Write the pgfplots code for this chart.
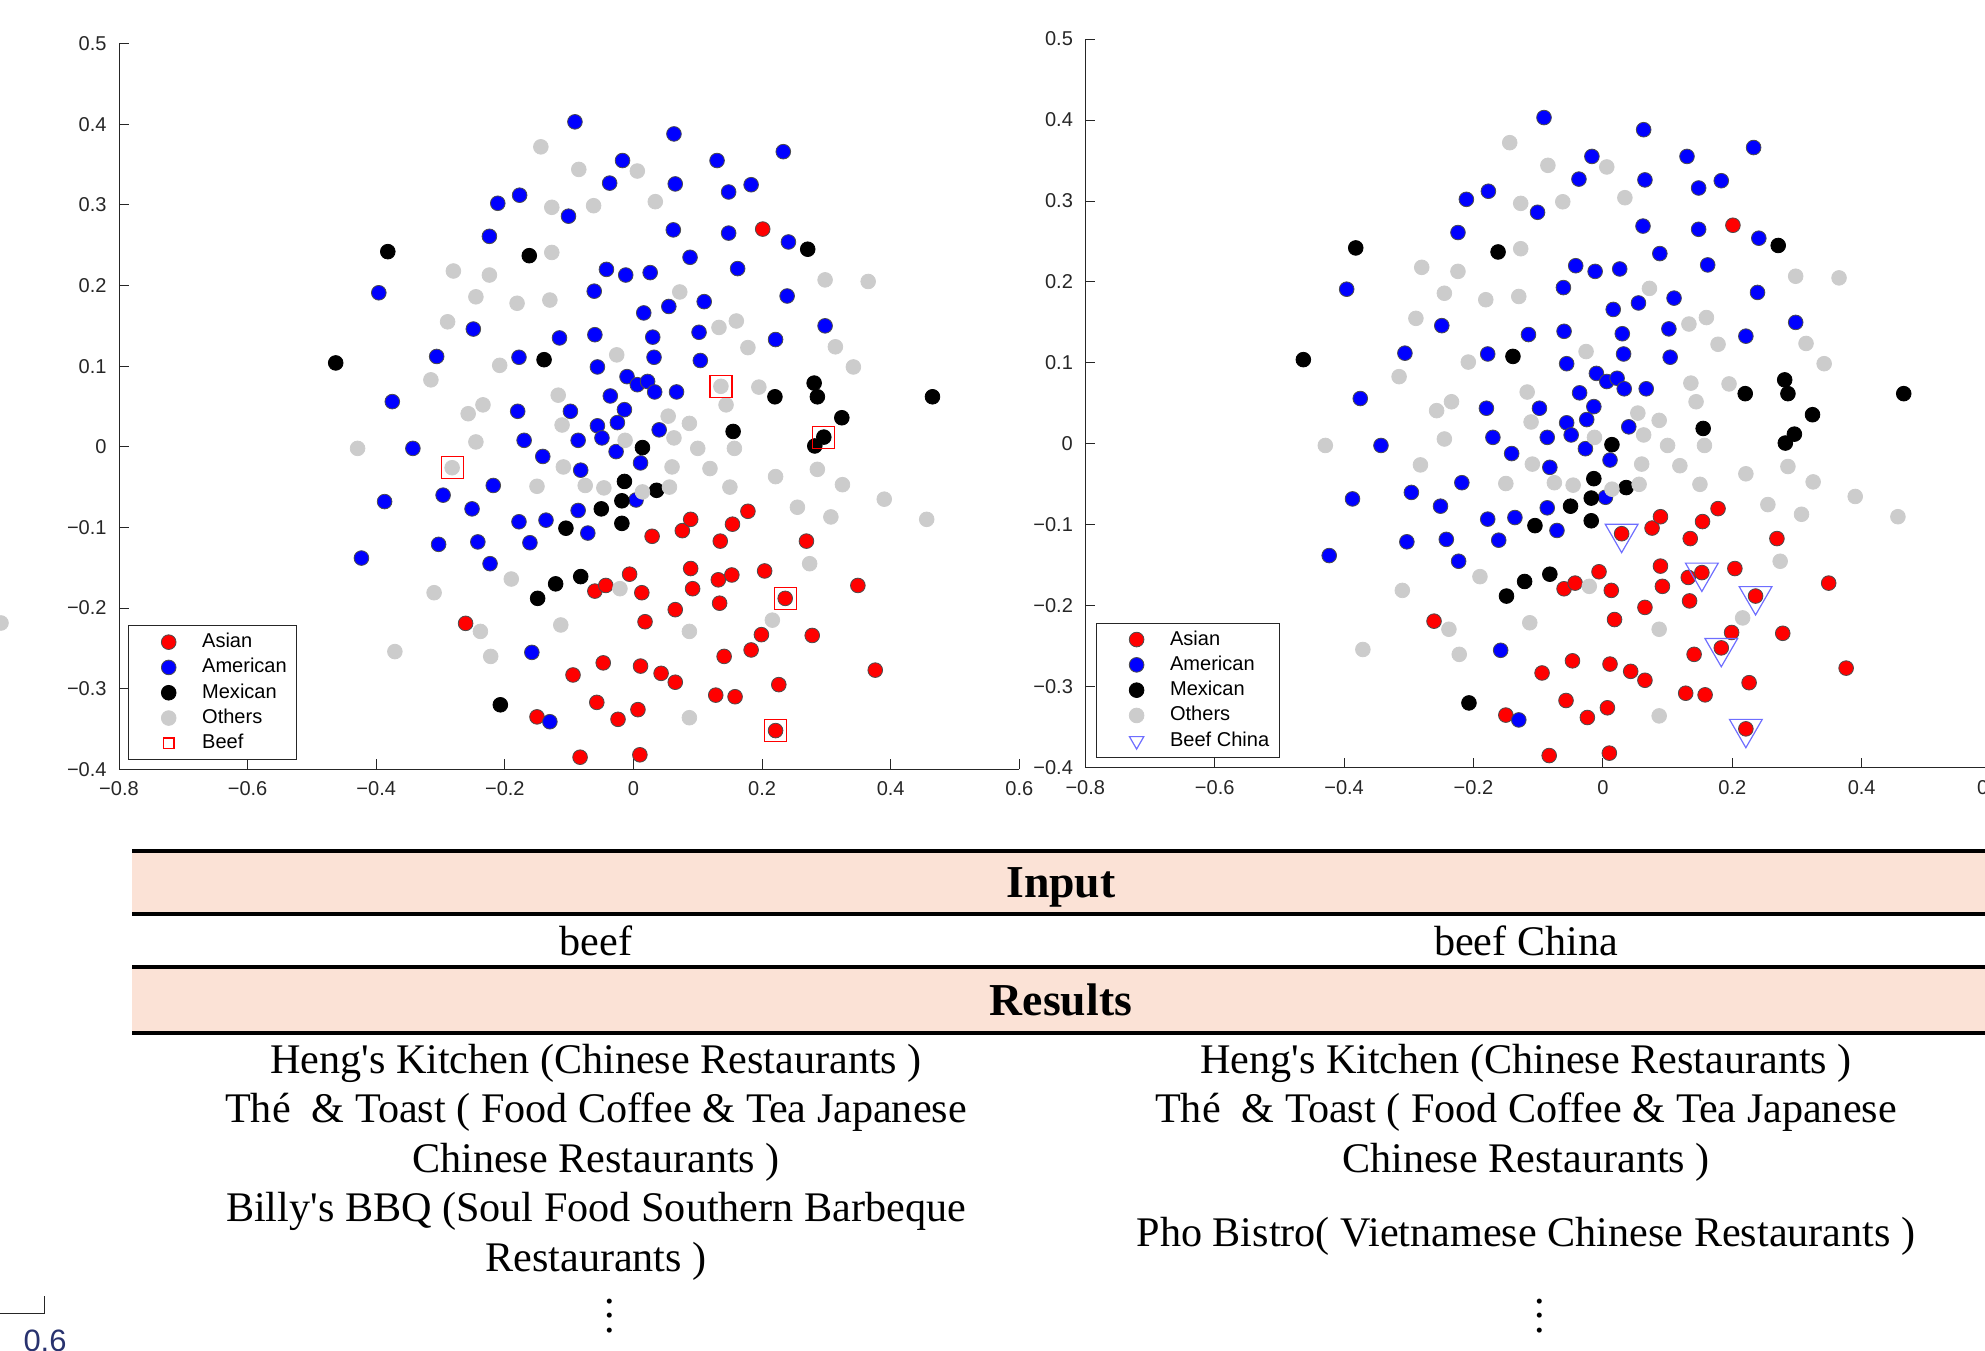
\documentclass[border=0pt]{standalone}
\usepackage{pgfplots}
\pgfplotsset{compat=1.18}
\usepackage{pgfplotstable}
\usepackage{fontspec}
\setmainfont{Liberation Serif}
\setsansfont{Liberation Sans}
\definecolor{headfill}{RGB}{251,226,214}
\definecolor{othergray}{RGB}{204,204,204}
\definecolor{trib}{RGB}{110,110,255}
\definecolor{navysix}{RGB}{40,50,110}

\pgfplotstableread{
x y
0.201 0.270
0.029 -0.111
0.076 -0.104
0.089 -0.090
0.178 -0.080
0.154 -0.096
0.135 -0.117
0.269 -0.117
0.089 -0.151
0.132 -0.165
0.153 -0.159
0.204 -0.154
0.092 -0.176
0.236 -0.188
0.349 -0.172
0.065 -0.202
0.134 -0.194
0.199 -0.233
0.278 -0.234
0.183 -0.252
0.141 -0.260
0.376 -0.277
0.043 -0.281
0.065 -0.292
0.128 -0.308
0.158 -0.310
0.226 -0.295
0.221 -0.352
-0.060 -0.179
-0.043 -0.172
-0.006 -0.158
0.013 -0.181
0.018 -0.217
-0.261 -0.219
-0.047 -0.268
0.011 -0.272
-0.094 -0.283
-0.057 -0.317
-0.150 -0.335
-0.024 -0.338
0.007 -0.326
-0.083 -0.385
0.010 -0.382
}\asian

\pgfplotstableread{
x y
-0.091 0.403
0.063 0.388
-0.017 0.355
0.065 0.326
-0.037 0.327
-0.177 0.312
-0.211 0.302
-0.101 0.286
0.062 0.269
-0.224 0.261
-0.042 0.220
-0.012 0.213
0.026 0.216
-0.396 0.191
-0.061 0.193
0.055 0.174
0.016 0.166
-0.249 0.146
-0.115 0.135
-0.060 0.139
0.030 0.136
0.032 0.111
-0.306 0.112
-0.178 0.111
-0.056 0.099
-0.010 0.087
0.006 0.077
0.022 0.081
0.033 0.068
0.067 0.068
-0.375 0.056
-0.036 0.063
-0.180 0.044
-0.098 0.044
-0.014 0.046
-0.056 0.026
-0.025 0.030
0.040 0.021
-0.170 0.008
-0.086 0.008
-0.049 0.011
-0.343 -0.002
0.130 0.355
0.233 0.366
0.148 0.316
0.183 0.325
0.148 0.265
0.241 0.254
0.088 0.235
0.162 0.221
0.110 0.180
0.239 0.187
0.102 0.142
0.298 0.150
0.221 0.133
0.104 0.107
-0.027 -0.006
-0.141 -0.012
-0.082 -0.029
0.011 -0.020
-0.218 -0.048
-0.387 -0.068
-0.296 -0.060
-0.251 -0.077
0.004 -0.066
-0.086 -0.079
-0.178 -0.093
-0.136 -0.091
-0.071 -0.107
-0.303 -0.121
-0.242 -0.118
-0.161 -0.119
-0.423 -0.138
-0.223 -0.145
-0.158 -0.255
-0.130 -0.341
}\american

\pgfplotstableread{
x y
-0.382 0.242
-0.162 0.237
-0.463 0.104
-0.139 0.108
0.014 -0.001
0.271 0.245
0.281 0.079
0.220 0.062
0.286 0.062
0.465 0.062
0.324 0.036
0.155 0.019
0.296 0.012
0.282 0.001
-0.014 -0.043
0.036 -0.054
-0.018 -0.067
-0.050 -0.077
-0.105 -0.101
-0.018 -0.095
-0.121 -0.170
-0.082 -0.161
-0.149 -0.188
-0.207 -0.320
}\mexican

\pgfplotstableread{
x y
-0.144 0.372
-0.085 0.344
0.006 0.342
-0.127 0.297
-0.062 0.299
0.034 0.304
-0.127 0.241
-0.280 0.218
-0.224 0.213
-0.245 0.186
-0.181 0.178
-0.130 0.182
0.072 0.192
-0.289 0.155
-0.026 0.114
-0.315 0.083
-0.208 0.101
-0.117 0.064
-0.234 0.052
-0.257 0.041
0.054 0.038
-0.111 0.027
0.063 0.011
-0.245 0.006
-0.013 0.008
-0.429 -0.002
0.298 0.207
0.365 0.205
0.133 0.148
0.160 0.156
0.178 0.123
0.314 0.124
0.342 0.099
0.136 0.075
0.195 0.074
0.144 0.052
0.087 0.029
0.100 -0.002
0.157 -0.002
-0.109 -0.025
0.060 -0.025
-0.282 -0.026
-0.150 -0.049
-0.075 -0.048
-0.046 -0.051
0.014 -0.056
0.056 -0.050
-0.190 -0.164
-0.021 -0.176
-0.310 -0.181
-0.238 -0.229
-0.113 -0.221
-0.371 -0.254
-0.222 -0.260
0.119 -0.027
0.221 -0.037
0.286 -0.028
0.150 -0.050
0.325 -0.047
0.390 -0.065
0.255 -0.075
0.307 -0.087
0.456 -0.090
0.274 -0.145
0.087 -0.229
0.216 -0.215
0.087 -0.336
}\others

\pgfplotstableread{
x y
0.136 0.075
-0.282 -0.026
0.296 0.012
0.236 -0.188
0.221 -0.352
}\beef

\pgfplotstableread{
x y
0.029 -0.111
0.153 -0.159
0.236 -0.188
0.183 -0.252
0.221 -0.352
}\beefchina

\pgfplotsset{
  mdsaxis/.style={
    scale only axis,
    xmin=-0.8, xmax=0.6, ymin=-0.4, ymax=0.5,
    axis lines=left,
    axis line style={-, line width=0.09mm, black!85},
    tick align=inside, major tick length=1mm,
    tick style={line width=0.09mm, black!85},
    xtick={-0.8,-0.6,-0.4,-0.2,0,0.2,0.4,0.6},
    xticklabels={−0.8,−0.6,−0.4,−0.2,0,0.2,0.4,0.6},
    ytick={-0.4,-0.3,-0.2,-0.1,0,0.1,0.2,0.3,0.4,0.5},
    yticklabels={−0.4,−0.3,−0.2,−0.1,0,0.1,0.2,0.3,0.4,0.5},
    tick label style={font=\fontsize{5.7}{6.8}\selectfont\sffamily, text=black!85},
    clip=false,
    legend cell align=left,
    legend image code/.code={\path (-3mm,0) (0.8mm,0); \draw[##1] plot coordinates {(0mm,0mm)};},
    legend style={draw=black!85, line width=0.09mm, fill=white,
      font=\fontsize{5.7}{6.8}\selectfont\sffamily,
      inner xsep=1mm, inner ysep=0.7mm, row sep=0.63mm, column sep=2.5mm,
      nodes={inner sep=0pt, text height=1.5mm, text depth=0.4mm},
      anchor=south west},
  },
  asianst/.style={only marks, mark=*, mark size=0.735mm, mark options={fill=red, draw=black!70, line width=0.08mm}},
  americanst/.style={only marks, mark=*, mark size=0.735mm, mark options={fill=blue, draw=black!70, line width=0.08mm}},
  mexicanst/.style={only marks, mark=*, mark size=0.735mm, mark options={fill=black, draw=black, line width=0.08mm}},
  otherst/.style={only marks, mark=*, mark size=0.735mm, mark options={fill=othergray, draw=othergray, line width=0.08mm}},
}

\begin{document}
\begin{tikzpicture}
% ---------- left scatter ----------
\begin{axis}[mdsaxis, at={(11.9mm,-76.93mm)}, anchor=south west,
  width=90.03mm, height=72.57mm,
  legend style={at={(0.0098,0.0124)}}]
\addplot[asianst] table {\asian};
\addlegendentry{Asian}
\addplot[americanst] table {\american};
\addlegendentry{American}
\addplot[mexicanst] table {\mexican};
\addlegendentry{Mexican}
\addplot[otherst] table {\others};
\addlegendentry{Others}
\addplot[only marks, mark=square, mark size=1.1mm, mark options={draw=red, line width=0.12mm},
  legend image post style={mark size=0.53mm}] table {\beef};
\addlegendentry{Beef}
\end{axis}
% ---------- right scatter ----------
\begin{axis}[mdsaxis, at={(108.53mm,-76.77mm)}, anchor=south west,
  width=90.58mm, height=72.87mm,
  legend style={at={(0.0115,0.0137)}}]
\addplot[asianst] table {\asian};
\addlegendentry{Asian}
\addplot[americanst] table {\american};
\addlegendentry{American}
\addplot[mexicanst] table {\mexican};
\addlegendentry{Mexican}
\addplot[otherst] table {\others};
\addlegendentry{Others}
\addplot[only marks, mark=triangle, mark size=1.89mm, mark options={draw=trib, line width=0.12mm, rotate=180},
  legend image post style={mark size=0.83mm}] table {\beefchina};
\addlegendentry{Beef China}
\end{axis}
% ---------- cropped neighbouring panel (left edge) ----------
\begin{axis}[hide axis, scale only axis, width=10mm, height=10mm,
  at={(0mm,-62.3mm)}, anchor=center, xmin=-1, xmax=1, ymin=-1, ymax=1, clip=false]
\addplot[otherst] coordinates {(0.02,0)};
\end{axis}
% ---------- table ----------
\begin{scope}[x=0.1mm,y=-0.1mm]
\fill[headfill] (132,851) rectangle (1995,914);
\fill[headfill] (132,967) rectangle (1995,1033);
\foreach \yy in {851,914,967,1033} {\draw[line width=0.33mm] (132,\yy) -- (1995,\yy);}
\node[anchor=base, font=\fontsize{13}{15}\selectfont\bfseries] at (1061,897) {Input};
\node[anchor=base, font=\fontsize{13}{15}\selectfont\bfseries] at (1061,1015) {Results};
\node[anchor=base, font=\fontsize{12}{14}\selectfont] at (596,955) {beef};
\node[anchor=base, font=\fontsize{12}{14}\selectfont] at (1526,955) {beef China};
\begin{scope}[every node/.style={anchor=base, font=\fontsize{12}{14}\selectfont}]
\node at (596,1073) {Heng\textquotesingle s Kitchen (Chinese Restaurants )};
\node at (596,1122.6) {Thé\ \ \& Toast ( Food Coffee \& Tea Japanese};
\node at (596,1172) {Chinese Restaurants )};
\node at (596,1221.8) {Billy\textquotesingle s BBQ (Soul Food Southern Barbeque};
\node at (596,1271.4) {Restaurants )};
\node at (1526,1073) {Heng\textquotesingle s Kitchen (Chinese Restaurants )};
\node at (1526,1122.6) {Thé\ \ \& Toast ( Food Coffee \& Tea Japanese};
\node at (1526,1172) {Chinese Restaurants )};
\node at (1526,1246.6) {Pho Bistro( Vietnamese Chinese Restaurants )};
\node at (610,1332) {$\vdots$};
\node at (1540,1332) {$\vdots$};
\end{scope}
% cropped neighbour panel at bottom left
\draw[line width=0.1mm, black!85] (0,1313.3) -- (44.3,1313.3) -- (44.3,1296);
\node[anchor=north, inner sep=0pt, font=\fontsize{8.8}{10}\selectfont\sffamily, text=navysix] at (45,1329) {0.6};
\end{scope}
\pgfresetboundingbox
\path[use as bounding box] (0,0) rectangle (198.5mm,-135.1mm);
\end{tikzpicture}
\end{document}
